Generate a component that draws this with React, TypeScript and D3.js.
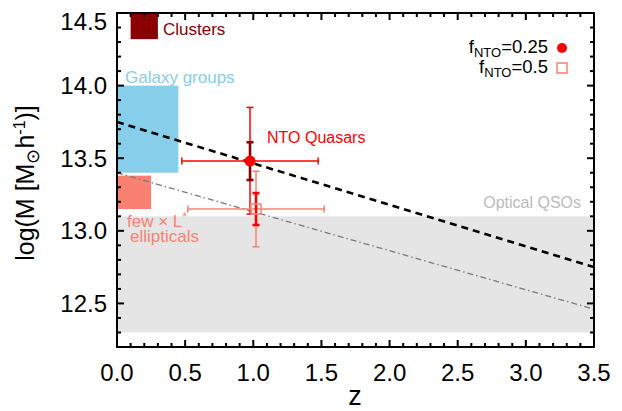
import React from "react";
import * as d3 from "d3";

const W = 622;
const H = 411;
const margin = { left: 117, right: 28, top: 13, bottom: 64 };

// axis ranges and labelled ticks
const zDomain = [0, 3.5];
const massDomain = [12.2, 14.5];
const zTicks = [0, 0.5, 1, 1.5, 2, 2.5, 3, 3.5];
const massTicks = [12.5, 13, 13.5, 14, 14.5];

// halo-mass regions of known populations
const regionNames = ["Optical QSOs", "Galaxy groups", "ellipticals", "Clusters"];
const regionZ0 = [0, 0, 0, 0.1];
const regionZ1 = [3.5, 0.45, 0.25, 0.3];
const regionM0 = [12.3, 13.4, 13.15, 14.32];
const regionM1 = [13.1, 14.0, 13.38, 14.7];
const regionColors = ["#e5e5e5", "#87ceeb", "#fa8072", "#8b0000"];

// model tracks of halo mass against redshift
const trackZ = [0, 3.5];
const trackF025 = [13.75, 12.75];
const trackF05 = [13.4, 12.46];

// NTO quasar measurements (f_NTO = 0.25, 0.5)
const qsoLabels = ["0.25", "0.5"];
const qsoZ = [0.976, 1.02];
const qsoMass = [13.48, 13.15];
const qsoZErr = [0.5, 0.5];
const qsoMassErrHi = [0.37, 0.26];
const qsoMassErrLo = [0.365, 0.26];
const qsoMassErrInner = [0.13, 0.11];

export default function App() {
  const x = d3.scaleLinear().domain(zDomain).range([margin.left, W - margin.right]);
  const y = d3.scaleLinear().domain(massDomain).range([H - margin.bottom, margin.top]);
  const x0 = margin.left;
  const x1 = W - margin.right;
  const y0 = H - margin.bottom;
  const y1 = margin.top;

  const font = "'Liberation Sans', Arial, Helvetica, sans-serif";

  const zMinor = d3.range(0, 35.01, 1).map((v) => v / 10);
  const mMinor = d3.range(123, 145.01, 1).map((v) => v / 10);
  const isMajor = (v: number) => Math.abs(v * 2 - Math.round(v * 2)) < 1e-6;

  const line = d3
    .line<number>()
    .x((_, i) => x(trackZ[i]))
    .y((d) => y(d));

  const outerColor = ["#ff0000", "#fa8072"];
  const innerColor = ["#8b0000", "#ff0000"];
  const cap = 3.5;

  return (
    <svg
      width={W}
      height={H}
      style={{ position: "absolute", left: 0, top: 0, background: "#fff" }}
      fontFamily={font}
    >
      <defs>
        <clipPath id="plot">
          <rect x={x0} y={y1} width={x1 - x0} height={y0 - y1} />
        </clipPath>
      </defs>
      <g clipPath="url(#plot)">
        {regionNames.map((n, i) => (
          <rect
            key={n}
            x={x(regionZ0[i])}
            y={y(regionM1[i])}
            width={x(regionZ1[i]) - x(regionZ0[i])}
            height={y(regionM0[i]) - y(regionM1[i])}
            fill={regionColors[i]}
          />
        ))}
        <path
          d={line(trackF05) || ""}
          fill="none"
          stroke="#7a7a7a"
          strokeWidth={1.3}
          strokeDasharray="6,3,1.5,3"
        />
        <path
          d={line(trackF025) || ""}
          fill="none"
          stroke="#000"
          strokeWidth={2.6}
          strokeDasharray="7,5"
        />
        {qsoLabels.map((lab, i) => {
          const cx = x(qsoZ[i]);
          const cy = y(qsoMass[i]);
          const xl = x(qsoZ[i] - qsoZErr[i]);
          const xr = x(qsoZ[i] + qsoZErr[i]);
          const yt = y(qsoMass[i] + qsoMassErrHi[i]);
          const yb = y(qsoMass[i] - qsoMassErrLo[i]);
          const it = y(qsoMass[i] + qsoMassErrInner[i]);
          const ib = y(qsoMass[i] - qsoMassErrInner[i]);
          const oc = outerColor[i];
          const ic = innerColor[i];
          return (
            <g key={lab}>
              <g stroke={oc} strokeWidth={1.5}>
                <line x1={xl} x2={xr} y1={cy} y2={cy} />
                <line x1={xl} x2={xl} y1={cy - cap} y2={cy + cap} />
                <line x1={xr} x2={xr} y1={cy - cap} y2={cy + cap} />
                <line x1={cx} x2={cx} y1={yt} y2={yb} />
                <line x1={cx - cap} x2={cx + cap} y1={yt} y2={yt} />
                <line x1={cx - cap} x2={cx + cap} y1={yb} y2={yb} />
              </g>
              <g stroke={ic} strokeWidth={2.6}>
                <line x1={cx} x2={cx} y1={it} y2={ib} />
                <line x1={cx - cap} x2={cx + cap} y1={it} y2={it} />
                <line x1={cx - cap} x2={cx + cap} y1={ib} y2={ib} />
              </g>
              {i === 0 ? (
                <circle cx={cx} cy={cy} r={5.5} fill="#ff0000" />
              ) : (
                <rect x={cx - 5} y={cy - 5} width={10} height={10} fill="none" stroke="#fa8072" strokeWidth={1.5} />
              )}
            </g>
          );
        })}
      </g>

      {/* region labels */}
      <text x={163} y={35} fontSize={17} fill="#8b0000">Clusters</text>
      <text x={125} y={83} fontSize={17} fill="#87ceeb">Galaxy groups</text>
      <text x={127} y={227} fontSize={17} fill="#fa8072">
        few × L<tspan dy={-6} fontSize={12}>*</tspan>
      </text>
      <text x={130} y={242} fontSize={17} fill="#fa8072">ellipticals</text>
      <text x={581} y={208} fontSize={16} fill="#bbbbbb" textAnchor="end">Optical QSOs</text>
      <text x={267} y={143} fontSize={16} fill="#ff0000">NTO Quasars</text>

      {/* legend */}
      <text x={548} y={53} fontSize={18.5} textAnchor="end" fill="#000">
        f<tspan dy={4} fontSize={13}>NTO</tspan>
        <tspan dy={-4}>=0.25</tspan>
      </text>
      <circle cx={562} cy={48} r={5} fill="#ff0000" />
      <text x={548} y={73} fontSize={18.5} textAnchor="end" fill="#000">
        f<tspan dy={4} fontSize={13}>NTO</tspan>
        <tspan dy={-4}>=0.5</tspan>
      </text>
      <rect x={557} y={63} width={10} height={10} fill="none" stroke="#fa8072" strokeWidth={1.5} />

      {/* frame and ticks */}
      <g stroke="#000" strokeWidth={2}>
        {zMinor.map((v) => {
          const len = isMajor(v) ? 7 : 4;
          return (
            <g key={"z" + v}>
              <line x1={x(v)} x2={x(v)} y1={y0} y2={y0 - len} />
              <line x1={x(v)} x2={x(v)} y1={y1} y2={y1 + len} />
            </g>
          );
        })}
        {mMinor.map((v) => {
          const len = isMajor(v) ? 7 : 4;
          return (
            <g key={"m" + v}>
              <line x1={x0} x2={x0 + len} y1={y(v)} y2={y(v)} />
              <line x1={x1} x2={x1 - len} y1={y(v)} y2={y(v)} />
            </g>
          );
        })}
        <rect x={x0} y={y1} width={x1 - x0} height={y0 - y1} fill="none" />
      </g>

      {zTicks.map((v) => (
        <text key={"zl" + v} x={x(v)} y={381} fontSize={24} textAnchor="middle" fill="#000">
          {d3.format(".1f")(v)}
        </text>
      ))}
      {massTicks.map((v) => (
        <text
          key={"ml" + v}
          x={107}
          y={Math.max(y(v) + 8.6, 30)}
          fontSize={24}
          textAnchor="end"
          fill="#000"
        >
          {d3.format(".1f")(v)}
        </text>
      ))}

      <text x={355} y={405} fontSize={27} textAnchor="middle" fill="#000">z</text>
      <text
        transform="translate(34,183) rotate(-90)"
        fontSize={25}
        textAnchor="middle"
        fill="#000"
      >
        log(M [M<tspan dy={5} fontSize={18}>⊙</tspan>
        <tspan dy={-5}>h</tspan>
        <tspan dy={-9} fontSize={16}>-1</tspan>
        <tspan dy={9}>)]</tspan>
      </text>
    </svg>
  );
}
